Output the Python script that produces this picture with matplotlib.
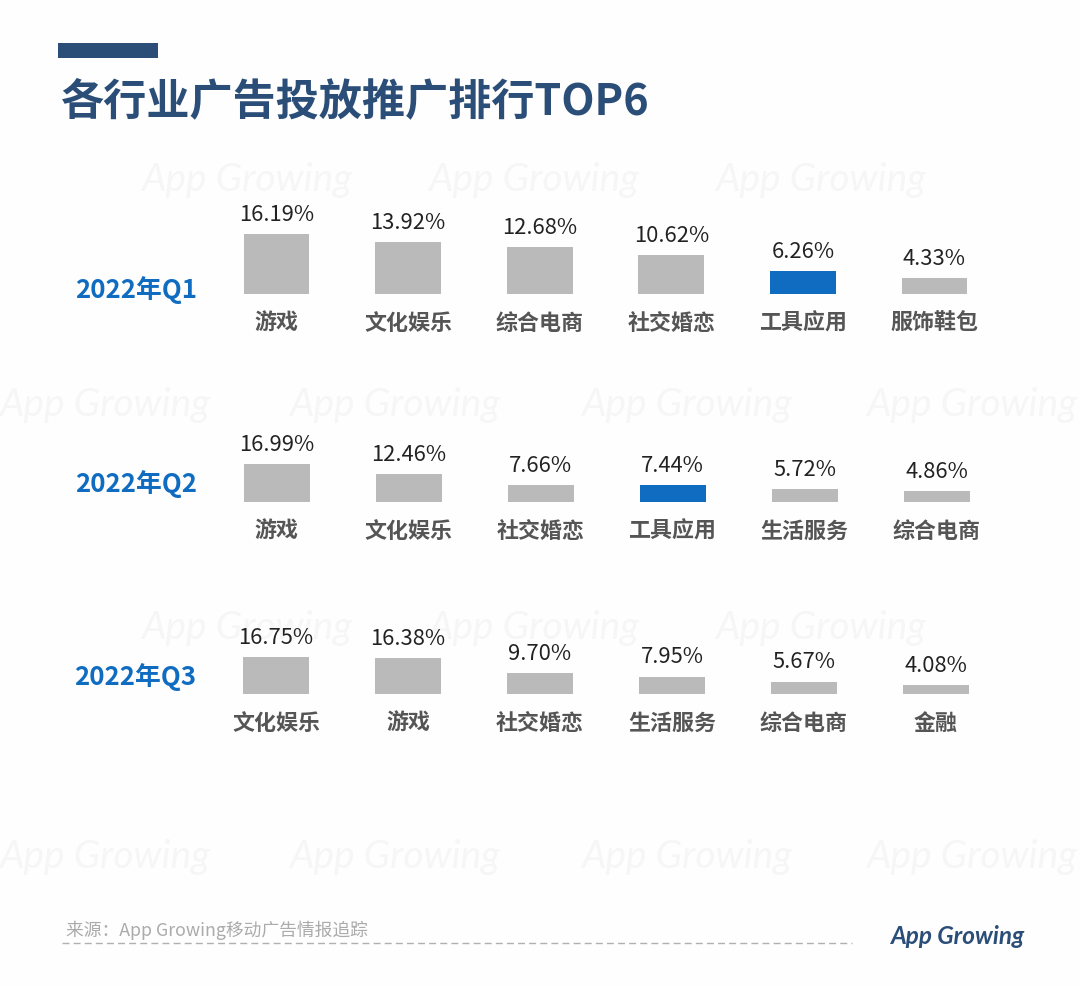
import matplotlib
matplotlib.use('Agg')
import matplotlib.pyplot as plt
from matplotlib.patches import Rectangle

plt.rcParams['font.family'] = ['Noto Sans CJK SC', 'DejaVu Sans']

W, H = 1080, 987

quarters = ['2022年Q1', '2022年Q2', '2022年Q3']

q1_names = ['游戏', '文化娱乐', '综合电商', '社交婚恋', '工具应用', '服饰鞋包']
q1_values = [16.19, 13.92, 12.68, 10.62, 6.26, 4.33]
q2_names = ['游戏', '文化娱乐', '社交婚恋', '工具应用', '生活服务', '综合电商']
q2_values = [16.99, 12.46, 7.66, 7.44, 5.72, 4.86]
q3_names = ['文化娱乐', '游戏', '社交婚恋', '生活服务', '综合电商', '金融']
q3_values = [16.75, 16.38, 9.70, 7.95, 5.67, 4.08]

HIGHLIGHT = '工具应用'
BLUE = '#0f6cc0'
GREY = '#bababa'
NAVY = '#2b4e78'

# row layout in pixels: baseline y, px per percent, left edge, pitch, label y, label x
ROWS = [
    (295, 3.70, 210.7, 131.6, 290, 75),
    (503, 2.24, 210.5, 132.0, 484, 75),
    (695, 2.20, 210.0, 132.0, 677, 74),
]


def fx(px):
    return px / W


def fy(py):
    return 1 - py / H


fig = plt.figure(figsize=(W / 100, H / 100), dpi=100, facecolor='#fefefe')

# watermark
for x in [247, 534, 821]:
    for y in [180, 628]:
        fig.text(fx(x), fy(y), 'App Growing', family='Lato', style='italic', fontsize=28,
                 color='#f6f6f6', ha='center', va='center', zorder=-1)
for x in [105, 395, 687, 972]:
    for y in [405, 857]:
        fig.text(fx(x), fy(y), 'App Growing', family='Lato', style='italic', fontsize=28,
                 color='#f6f6f6', ha='center', va='center', zorder=-1)

# header
fig.add_artist(Rectangle((fx(58), fy(58.5)), 100 / W, 15 / H, transform=fig.transFigure,
                         facecolor=NAVY, edgecolor='none'))
fig.text(fx(61), fy(101), '各行业广告投放推广排行TOP6', fontsize=31.1, fontweight='bold',
         color=NAVY, ha='left', va='center')

all_names = [q1_names, q2_names, q3_names]
all_values = [q1_values, q2_values, q3_values]

for label, names, values, row in zip(quarters, all_names, all_values, ROWS):
    base, scale, left, pitch, label_y, label_x = row
    height = 20 * scale
    ax = fig.add_axes([fx(left), fy(base), 6 * pitch / W, height / H])
    ax.patch.set_alpha(0)
    colors = [BLUE if n == HIGHLIGHT else GREY for n in names]
    bars = ax.bar(range(6), values, width=0.5, color=colors)
    ax.set_xlim(-0.5, 5.5)
    ax.set_ylim(0, 20)
    ax.set_yticks([])
    ax.set_xticks(range(6))
    ax.set_xticklabels(names, fontsize=15.8, fontweight='bold', color='#555555')
    ax.tick_params(axis='x', length=0, pad=12)
    for spine in ax.spines.values():
        spine.set_visible(False)
    for bar, v in zip(bars, values):
        ax.annotate(f'{v:.2f}%', (bar.get_x() + bar.get_width() / 2, v), xytext=(0, 6.5),
                    textcoords='offset points', ha='center', va='bottom', fontsize=15.8,
                    color='#222222', annotation_clip=False)
    fig.text(fx(label_x), fy(label_y), label, fontsize=18.6, fontweight='bold', color=BLUE,
             ha='left', va='center')

# footer
fig.text(fx(66), fy(930), '来源：App Growing移动广告情报追踪', fontsize=12.8, color='#ababab',
         ha='left', va='center')
fig.add_artist(plt.Line2D([fx(62), fx(852)], [fy(944), fy(944)], color='#b0b0b0', lw=1,
                          linestyle=(0, (5, 3))))
fig.text(fx(958), fy(937), 'App Growing', family='Lato', style='italic', fontweight='bold',
         fontsize=17.5, color=NAVY, ha='center', va='center')

fig.savefig('out.png', dpi=100, facecolor=fig.get_facecolor())
